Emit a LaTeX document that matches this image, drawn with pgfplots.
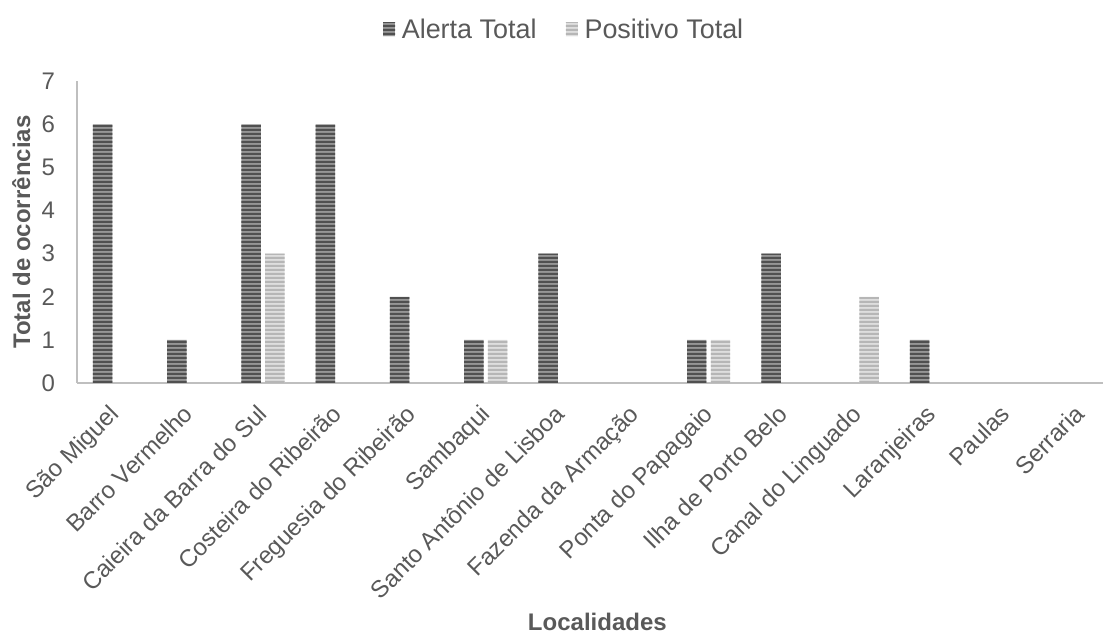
\documentclass[border=0pt]{standalone}
\usepackage{pgfplots}
\pgfplotsset{compat=1.18}
\usepackage{fontspec}
\setmainfont{Liberation Sans}
\usetikzlibrary{patterns.meta}
\definecolor{txt}{RGB}{89,89,89}
\definecolor{axl}{RGB}{191,191,191}
\definecolor{darkA}{RGB}{150,150,150}
\definecolor{darkB}{RGB}{80,80,80}
\definecolor{lightA}{RGB}{222,222,222}
\definecolor{lightB}{RGB}{182,182,182}
\tikzdeclarepattern{
  name=hstripes,
  type=uncolored,
  bounding box={(0pt,0pt) and (3pt,3pt)},
  tile size={(3pt,3pt)},
  code={\fill (0pt,0pt) rectangle (3pt,1.6pt);}
}
\begin{document}
\begin{tikzpicture}
\begin{axis}[
  scale only axis,
  width=769.3pt, height=226.35pt,
  xmin=-0.5, xmax=13.31,
  ymin=0, ymax=7,
  ytick={0,1,2,3,4,5,6,7},
  xtick={0,...,13},
  xticklabels={São Miguel, Barro Vermelho, Caieira da Barra do Sul, Costeira do Ribeirão, Freguesia do Ribeirão, Sambaqui, Santo Antônio de Lisboa, Fazenda da Armação, Ponta do Papagaio, Ilha de Porto Belo, Canal do Linguado, Laranjeiras, Paulas, Serraria},
  axis x line=bottom, axis y line=left,
  axis line style={-, draw=axl, line width=1.5pt},
  major tick length=0pt,
  /pgf/number format/assume math mode=true,
  tick label style={font=\fontsize{18}{21}\selectfont, text=txt},
  xticklabel style={yshift=-15pt, xshift=-5pt, rotate=45, anchor=north east, inner sep=0pt},
  yticklabel style={xshift=-16.5pt, anchor=east, inner sep=0pt},
  ylabel={Total de ocorrências},
  xlabel={Localidades},
  label style={font=\fontsize{18}{21}\selectfont\bfseries, text=txt},
  ylabel style={at={(axis description cs:-0.0546,0.5)}, anchor=center, rotate=0},
  xlabel style={at={(axis description cs:0.507,-0.792)}, anchor=center},
  ybar,
  bar width=14.6pt,
  clip=false,
  y filter/.expression={y==0 ? nan : y},
  legend columns=2,
  legend style={draw=none, fill=none, at={(axis description cs:0.475,1.172)}, anchor=center,
    font=\fontsize{20.2}{24}\selectfont, text=txt,
    /tikz/every odd column/.append style={column sep=3pt},
    /tikz/every even column/.append style={column sep=20pt}},
  legend image code/.code={\fill[#1] (0pt,-5.2pt) rectangle (9pt,5.3pt);},
]
\addplot[draw=none, fill=darkA, postaction={pattern=hstripes, pattern color=darkB}, bar shift=-8.9pt]
  coordinates {(0,6) (1,1) (2,6) (3,6) (4,2) (5,1) (6,3) (7,0) (8,1) (9,3) (10,0) (11,1) (12,0) (13,0)};
\addplot[draw=none, fill=lightA, postaction={pattern=hstripes, pattern color=lightB}, bar shift=8.9pt]
  coordinates {(0,0) (1,0) (2,3) (3,0) (4,0) (5,1) (6,0) (7,0) (8,1) (9,0) (10,2) (11,0) (12,0) (13,0)};
\legend{Alerta Total, Positivo Total}
\coordinate (bl) at (rel axis cs:0,0);
\coordinate (tr) at (rel axis cs:1,1);
\end{axis}
\pgfresetboundingbox
\path ([shift={(-58pt,-189pt)}]bl) rectangle ([shift={(0pt,60.9pt)}]tr);
\end{tikzpicture}
\end{document}
